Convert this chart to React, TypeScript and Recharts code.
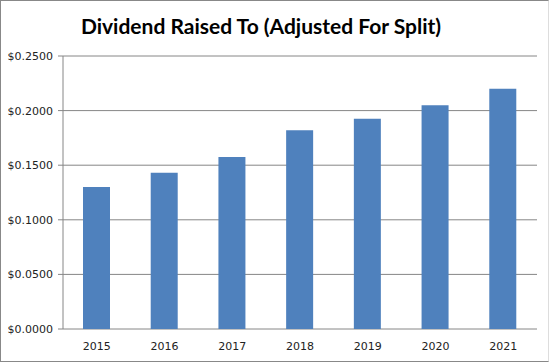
import { Bar, BarChart, CartesianGrid, XAxis, YAxis } from 'recharts';

const YEARS = ['2015', '2016', '2017', '2018', '2019', '2020', '2021'];
const DIVIDENDS = [0.13, 0.143, 0.1575, 0.182, 0.1925, 0.205, 0.22];
const Y_TICKS = [0, 0.05, 0.1, 0.15, 0.2, 0.25];

const data = YEARS.map((year, i) => ({ year, idx: i, dividend: DIVIDENDS[i] }));

const BLUE = '#4f81bd';
const LINE = '#868686';
const TEXT = '#222';

const money = (v: number) => `$${v.toFixed(4)}`;

export default function App() {
  return (
    <div
      style={{
        position: 'absolute',
        left: 0,
        top: 0,
        width: 552,
        height: 364,
        background: '#fff',
      }}
    >
      <div
        style={{
          position: 'absolute',
          left: 0,
          top: 0,
          width: 549,
          height: 362,
          boxSizing: 'border-box',
          borderLeft: '1px solid #888',
          borderTop: '1px solid #888',
          borderBottom: '1px solid #888',
          borderRight: '1px solid #ddd',
        }}
      />
      <div
        style={{
          position: 'absolute',
          left: -15,
          top: 12,
          width: 552,
          textAlign: 'center',
          fontFamily: 'Lato, "Open Sans", sans-serif',
          fontWeight: 700,
          fontSize: 21,
          lineHeight: '28px',
          color: '#000',
        }}
      >
        Dividend Raised To (Adjusted For Split)
      </div>
      <BarChart
        width={552}
        height={364}
        data={data}
        margin={{ top: 56, right: 15, bottom: 0, left: 0 }}
        barSize={27}
        style={{ position: 'absolute', left: 0, top: 0 }}
      >
        <CartesianGrid vertical={false} stroke={LINE} />
        <XAxis
          xAxisId="bounds"
          type="number"
          dataKey="idx"
          domain={[0, 7]}
          ticks={[0, 1, 2, 3, 4, 5, 6, 7]}
          tick={false}
          height={0}
          stroke={LINE}
          tickSize={5}
        />
        <XAxis
          xAxisId="cat"
          dataKey="year"
          axisLine={false}
          tickLine={false}
          height={35}
          tickMargin={7}
          tick={{ fill: TEXT, fontSize: 11, fontFamily: '"DejaVu Sans", sans-serif' }}
        />
        <YAxis
          domain={[0, 0.25]}
          ticks={Y_TICKS}
          width={63}
          stroke={LINE}
          tickSize={5}
          tickMargin={5}
          tickFormatter={money}
          tick={{ fill: TEXT, fontSize: 11, fontFamily: '"DejaVu Sans", sans-serif' }}
        />
        <Bar xAxisId="cat" dataKey="dividend" fill={BLUE} isAnimationActive={false} />
      </BarChart>
    </div>
  );
}
